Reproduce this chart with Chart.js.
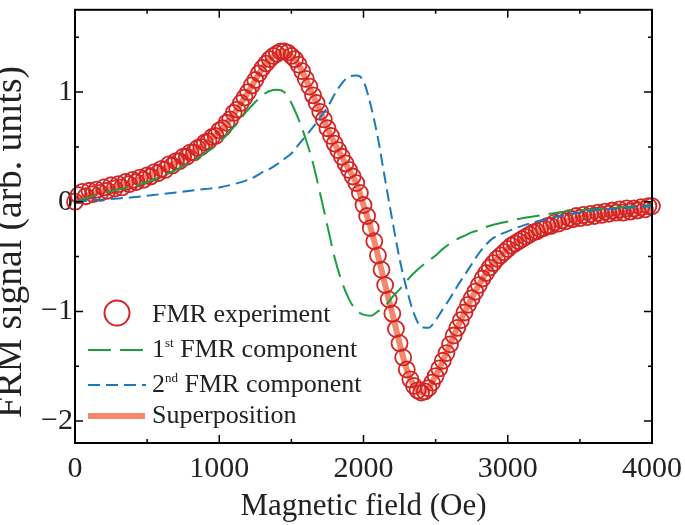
<!DOCTYPE html>
<html>
<head>
<meta charset="utf-8">
<script src="https://cdn.jsdelivr.net/npm/chart.js@4.4.1/dist/chart.umd.min.js"></script>
<style>
  html, body { margin: 0; padding: 0; background: #fff; }
  #wrap { width: 685px; height: 525px; }
</style>
</head>
<body>
<div id="wrap"><canvas id="fmrChart"></canvas></div>
<script>
// Field values (Oe) of the measured points
const expField = [
  0, 25, 50, 75, 100, 125, 150, 175, 200, 225, 250, 275, 300, 325, 350, 375,
  400, 425, 450, 475, 500, 525, 550, 575, 600, 625, 650, 675, 700, 725, 750, 775,
  800, 825, 850, 875, 900, 925, 950, 975, 1000, 1025, 1050, 1075, 1100, 1125, 1150, 1175,
  1200, 1225, 1250, 1275, 1300, 1325, 1350, 1375, 1400, 1425, 1450, 1475, 1500, 1525, 1550, 1575,
  1600, 1625, 1650, 1675, 1700, 1725, 1750, 1775, 1800, 1825, 1850, 1875, 1900, 1925, 1950, 1975,
  2000, 2025, 2050, 2075, 2100, 2125, 2150, 2175, 2200, 2225, 2250, 2275, 2300, 2325, 2350, 2375,
  2400, 2425, 2450, 2475, 2500, 2525, 2550, 2575, 2600, 2625, 2650, 2675, 2700, 2725, 2750, 2775,
  2800, 2825, 2850, 2875, 2900, 2925, 2950, 2975, 3000, 3025, 3050, 3075, 3100, 3125, 3150, 3175,
  3200, 3225, 3250, 3275, 3300, 3325, 3350, 3375, 3400, 3425, 3450, 3475, 3500, 3525, 3550, 3575,
  3600, 3625, 3650, 3675, 3700, 3725, 3750, 3775, 3800, 3825, 3850, 3875, 3900, 3925, 3950, 3975,
  4000
];
// FMR experiment (arb. units)
const expSignal = [
  0.00, 0.06, 0.09, 0.05, 0.10, 0.07, 0.11, 0.08, 0.13, 0.10, 0.15, 0.12, 0.16, 0.13, 0.18, 0.16,
  0.20, 0.18, 0.22, 0.20, 0.24, 0.23, 0.27, 0.26, 0.30, 0.29, 0.34, 0.33, 0.37, 0.37, 0.41, 0.41,
  0.45, 0.45, 0.49, 0.50, 0.54, 0.55, 0.59, 0.60, 0.65, 0.67, 0.72, 0.75, 0.81, 0.84, 0.90, 0.95,
  1.00, 1.06, 1.11, 1.17, 1.22, 1.26, 1.30, 1.33, 1.35, 1.37, 1.37, 1.36, 1.33, 1.30, 1.25, 1.19,
  1.12, 1.05, 0.97, 0.90, 0.82, 0.75, 0.67, 0.60, 0.53, 0.47, 0.41, 0.35, 0.29, 0.23, 0.17, 0.08,
  -0.03, -0.13, -0.24, -0.36, -0.49, -0.62, -0.76, -0.89, -1.02, -1.16, -1.29, -1.42, -1.53, -1.62, -1.68, -1.72,
  -1.74, -1.73, -1.70, -1.65, -1.59, -1.52, -1.45, -1.38, -1.30, -1.22, -1.15, -1.08, -1.01, -0.94, -0.88, -0.82,
  -0.76, -0.70, -0.65, -0.60, -0.56, -0.52, -0.49, -0.46, -0.43, -0.40, -0.38, -0.36, -0.34, -0.32, -0.30, -0.28,
  -0.27, -0.25, -0.24, -0.22, -0.22, -0.19, -0.20, -0.17, -0.18, -0.15, -0.16, -0.13, -0.15, -0.12, -0.14, -0.11,
  -0.13, -0.10, -0.12, -0.09, -0.11, -0.08, -0.10, -0.07, -0.10, -0.06, -0.09, -0.06, -0.08, -0.05, -0.07, -0.04,
  -0.04
];

// Field values (Oe) of the fitted curves
const fitField = [
  0, 100, 200, 300, 400, 500, 600, 700, 800, 900, 1000, 1100, 1200, 1250, 1300, 1350,
  1400, 1450, 1500, 1550, 1600, 1650, 1700, 1750, 1800, 1850, 1900, 1950, 2000, 2050, 2100, 2150,
  2200, 2250, 2300, 2350, 2400, 2450, 2500, 2550, 2600, 2650, 2700, 2750, 2800, 2850, 2900, 3000,
  3100, 3200, 3400, 3600, 3800, 4000
];
// 1st FMR component
const comp1 = [
  0.00, 0.04, 0.08, 0.11, 0.14, 0.18, 0.23, 0.29, 0.36, 0.44, 0.54, 0.68, 0.84, 0.91, 0.97, 1.01,
  1.02, 1.00, 0.90, 0.75, 0.57, 0.35, 0.07, -0.22, -0.51, -0.73, -0.89, -0.99, -1.03, -1.04, -1.00, -0.95,
  -0.87, -0.80, -0.72, -0.65, -0.59, -0.54, -0.49, -0.43, -0.38, -0.34, -0.31, -0.28, -0.26, -0.23, -0.21, -0.18,
  -0.15, -0.13, -0.09, -0.07, -0.05, -0.03
];
// 2nd FMR component
const comp2 = [
  0.00, 0.01, 0.02, 0.03, 0.04, 0.055, 0.07, 0.085, 0.10, 0.115, 0.13, 0.16, 0.20, 0.23, 0.27, 0.30,
  0.34, 0.39, 0.44, 0.52, 0.60, 0.68, 0.77, 0.86, 0.98, 1.08, 1.14, 1.15, 1.10, 0.88, 0.58, 0.20,
  -0.17, -0.52, -0.80, -1.02, -1.14, -1.15, -1.08, -0.98, -0.88, -0.77, -0.67, -0.57, -0.47, -0.39, -0.33, -0.27,
  -0.22, -0.18, -0.12, -0.08, -0.06, -0.04
];
// Superposition of both components
const superpos = [
  0.00, 0.06, 0.10, 0.14, 0.18, 0.23, 0.29, 0.36, 0.44, 0.53, 0.64, 0.80, 1.00, 1.11, 1.22, 1.30,
  1.35, 1.37, 1.33, 1.25, 1.12, 0.97, 0.82, 0.67, 0.53, 0.41, 0.29, 0.17, -0.03, -0.24, -0.49, -0.76,
  -1.02, -1.29, -1.53, -1.68, -1.74, -1.70, -1.59, -1.45, -1.30, -1.15, -1.01, -0.88, -0.76, -0.65, -0.56, -0.43,
  -0.34, -0.27, -0.18, -0.13, -0.10, -0.07
];

// Axis ticks
const xTicks = [0, 1000, 2000, 3000, 4000];
const xMinorTicks = [500, 1500, 2500, 3500];
const yTicks = [-2, -1, 0, 1];
const yMinorTicks = [-1.5, -0.5, 0.5, 1.5];

const RED = "#d42424";
const GREEN = "#1c9e42";
const BLUE = "#1a78bd";
const SALMON = "#f4876c";
const FONT = "'Liberation Serif', 'Times New Roman', serif";

function pts(xs, ys) {
  return xs.map((x, i) => ({ x: x, y: ys[i] }));
}

// Frame on all four sides with inward ticks
const frameTicks = {
  id: "frameTicks",
  afterDatasetsDraw(chart) {
    const { ctx, chartArea: a, scales } = chart;
    const sx = scales.x, sy = scales.y;
    ctx.save();
    ctx.strokeStyle = "#000";
    ctx.lineWidth = 1.5;
    ctx.beginPath();
    const tickX = (vals, len) => {
      vals.forEach(v => {
        const px = sx.getPixelForValue(v);
        ctx.moveTo(px, a.bottom); ctx.lineTo(px, a.bottom - len);
        ctx.moveTo(px, a.top); ctx.lineTo(px, a.top + len);
      });
    };
    const tickY = (vals, len) => {
      vals.forEach(v => {
        const py = sy.getPixelForValue(v);
        ctx.moveTo(a.left, py); ctx.lineTo(a.left + len, py);
        ctx.moveTo(a.right, py); ctx.lineTo(a.right - len, py);
      });
    };
    tickX(xTicks, 8); tickX(xMinorTicks, 4);
    tickY(yTicks, 8); tickY(yMinorTicks, 4);
    ctx.stroke();
    ctx.lineWidth = 2;
    ctx.strokeRect(a.left, a.top, a.right - a.left, a.bottom - a.top);
    ctx.restore();
  }
};

// Legend drawn inside the plot, with superscripts; y axis title too
const innerLegend = {
  id: "innerLegend",
  afterDraw(chart) {
    const ctx = chart.ctx;
    ctx.save();
    ctx.fillStyle = "#222";
    ctx.textBaseline = "alphabetic";

    // y axis title, rotated
    ctx.save();
    ctx.translate(21, 242);
    ctx.rotate(-Math.PI / 2);
    ctx.textAlign = "center";
    ctx.font = "37.5px " + FONT;
    ctx.fillText("FRM signal (arb. units)", 0, 0);
    ctx.restore();

    ctx.font = "26px " + FONT;
    // FMR experiment
    ctx.strokeStyle = RED;
    ctx.lineWidth = 2;
    ctx.beginPath();
    ctx.arc(117, 313, 12.5, 0, Math.PI * 2);
    ctx.stroke();
    ctx.fillText("FMR experiment", 152, 322);

    // 1st component
    ctx.strokeStyle = GREEN;
    ctx.lineWidth = 2;
    ctx.setLineDash([23, 9]);
    ctx.beginPath(); ctx.moveTo(88, 350); ctx.lineTo(146, 350); ctx.stroke();
    // 2nd component
    ctx.strokeStyle = BLUE;
    ctx.setLineDash([12, 6]);
    ctx.beginPath(); ctx.moveTo(88, 385); ctx.lineTo(146, 385); ctx.stroke();
    // superposition
    ctx.setLineDash([]);
    ctx.strokeStyle = SALMON;
    ctx.lineWidth = 6;
    ctx.beginPath(); ctx.moveTo(88, 416); ctx.lineTo(145, 416); ctx.stroke();

    const supLine = (base, sup, rest, y) => {
      let x = 152;
      ctx.font = "26px " + FONT;
      ctx.fillText(base, x, y);
      x += ctx.measureText(base).width;
      ctx.font = "13px " + FONT;
      ctx.fillText(sup, x, y - 10);
      x += ctx.measureText(sup).width;
      ctx.font = "26px " + FONT;
      ctx.fillText(rest, x, y);
    };
    supLine("1", "st", " FMR component", 357);
    supLine("2", "nd", " FMR component", 392);
    ctx.font = "26px " + FONT;
    ctx.fillText("Superposition", 152, 423);
    ctx.restore();
  }
};

// no automatic edge padding from the tick labels
function noEdgePadding(s) {
  s.paddingTop = 0; s.paddingBottom = 0; s.paddingLeft = 0; s.paddingRight = 0;
}

const ctx = document.getElementById("fmrChart").getContext("2d");
const fmrChart = new Chart(ctx, {
  type: "scatter",
  data: {
    datasets: [
      {
        label: "FMR experiment",
        data: pts(expField, expSignal),
        showLine: false,
        pointRadius: 8,
        pointBorderWidth: 1.8,
        pointBorderColor: RED,
        pointBackgroundColor: "rgba(0,0,0,0)",
        clip: false,
        order: 3
      },
      {
        label: "1st FMR component",
        data: pts(fitField, comp1),
        showLine: true,
        borderColor: GREEN,
        borderWidth: 2,
        borderDash: [23, 9],
        pointRadius: 0,
        cubicInterpolationMode: "monotone",
        order: 2
      },
      {
        label: "2nd FMR component",
        data: pts(fitField, comp2),
        showLine: true,
        borderColor: BLUE,
        borderWidth: 2,
        borderDash: [12, 6],
        pointRadius: 0,
        cubicInterpolationMode: "monotone",
        order: 1
      },
      {
        label: "Superposition",
        data: pts(fitField, superpos),
        showLine: true,
        borderColor: SALMON,
        borderWidth: 6,
        pointRadius: 0,
        cubicInterpolationMode: "monotone",
        order: 4
      }
    ]
  },
  options: {
    responsive: true,
    maintainAspectRatio: false,
    animation: false,
    devicePixelRatio: 1,
    layout: { padding: { left: 0, right: 33, top: 1, bottom: 0 } },
    plugins: {
      legend: { display: false },
      tooltip: { enabled: false }
    },
    scales: {
      x: {
        type: "linear",
        min: 0,
        max: 4000,
        afterBuildTicks: s => { s.ticks = xTicks.map(v => ({ value: v })); },
        afterFit: s => { s.height = 82; noEdgePadding(s); },
        grid: { display: false, drawTicks: false },
        border: { display: false },
        ticks: {
          color: "#222",
          padding: 8,
          maxRotation: 0,
          font: { family: FONT, size: 30 },
          callback: v => String(v)
        },
        title: {
          display: true,
          text: "Magnetic field (Oe)",
          color: "#222",
          padding: 0,
          font: { family: FONT, size: 31, lineHeight: 1.2 }
        }
      },
      y: {
        type: "linear",
        min: -2.2,
        max: 1.75,
        afterBuildTicks: s => { s.ticks = yTicks.map(v => ({ value: v })); },
        afterFit: s => { s.width = 75; noEdgePadding(s); },
        grid: { display: false, drawTicks: false },
        border: { display: false },
        ticks: {
          color: "#222",
          padding: 2,
          font: { family: FONT, size: 30 },
          callback: v => (v < 0 ? "\u2212" + Math.abs(v) : String(v))
        },
        title: { display: false }
      }
    }
  },
  plugins: [frameTicks, innerLegend]
});
</script>
</body>
</html>
